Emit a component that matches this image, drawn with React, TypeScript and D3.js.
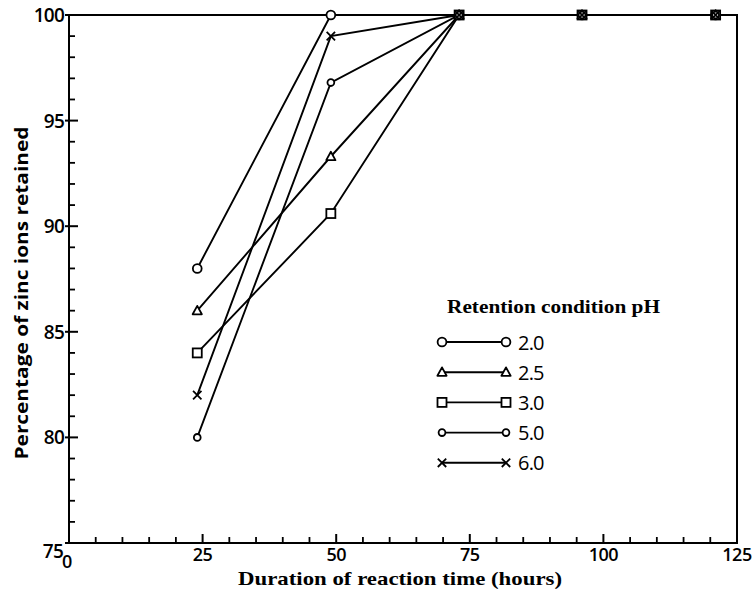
import React from "react";
import * as d3 from "d3";

// Reaction time in hours
const hours = [24, 49, 73, 96, 121];

// Percentage of zinc ions retained at each retention pH
const ph20 = [88, 100, 100, 100, 100];
const ph25 = [86, 93.3, 100, 100, 100];
const ph30 = [84, 90.6, 100, 100, 100];
const ph50 = [80, 96.8, 100, 100, 100];
const ph60 = [82, 99, 100, 100, 100];

const seriesLabels = ["2.0", "2.5", "3.0", "5.0", "6.0"];
const seriesMarkers = ["circle", "triangle", "square", "smallCircle", "cross"];
const seriesValues = [ph20, ph25, ph30, ph50, ph60];

const xMajorTicks = [0, 25, 50, 75, 100, 125];
const yMajorTicks = [75, 80, 85, 90, 95, 100];

const W = 755;
const H = 594;
const SANS = "'Open Sans', 'DejaVu Sans', sans-serif";
const SERIF = "'Liberation Serif', 'DejaVu Serif', serif";

function Marker({ kind, x, y }: { kind: string; x: number; y: number }) {
  const sw = 1.8;
  if (kind === "circle") {
    return <circle cx={x} cy={y} r={4.4} fill="#fff" stroke="#000" strokeWidth={sw} />;
  }
  if (kind === "smallCircle") {
    return <circle cx={x} cy={y} r={3.4} fill="#fff" stroke="#000" strokeWidth={sw} />;
  }
  if (kind === "square") {
    return <rect x={x - 4.5} y={y - 4.5} width={9} height={9} fill="#fff" stroke="#000" strokeWidth={sw} />;
  }
  if (kind === "triangle") {
    const tri = d3.line()([
      [x, y - 4.8],
      [x + 4.6, y + 3.6],
      [x - 4.6, y + 3.6],
    ]) + "Z";
    return <path d={tri} fill="#fff" stroke="#000" strokeWidth={sw} strokeLinejoin="round" />;
  }
  const s = 4.2;
  return (
    <path
      d={`M${x - s},${y - s}L${x + s},${y + s}M${x - s},${y + s}L${x + s},${y - s}`}
      stroke="#000"
      strokeWidth={sw}
      fill="none"
    />
  );
}

export default function App() {
  const x = d3.scaleLinear().domain([0, 125]).range([69, 737]);
  const y = d3.scaleLinear().domain([75, 100]).range([543, 15]);

  const line = d3
    .line<number>()
    .x((_, i) => x(hours[i]))
    .y((v) => y(v));

  const xMinor = d3.range(0, 126, 5).filter((v) => v % 25 !== 0);
  const yMinor = d3.range(75, 101, 1).filter((v) => v % 5 !== 0);

  const legendX0 = 442;
  const legendX1 = 506;
  const legendY0 = 342;
  const legendStep = 30.2;

  return (
    <svg
      width={W}
      height={H}
      style={{ position: "absolute", left: 0, top: 0, background: "#fff" }}
    >
      <rect x={0} y={0} width={W} height={H} fill="#fff" />

      {/* data lines */}
      {seriesValues.map((vals, si) => (
        <path key={"l" + si} d={line(vals) || ""} fill="none" stroke="#000" strokeWidth={1.9} />
      ))}

      {/* plot frame */}
      <rect
        x={x(0)}
        y={y(100)}
        width={x(125) - x(0)}
        height={y(75) - y(100)}
        fill="none"
        stroke="#000"
        strokeWidth={2}
      />

      {/* x ticks */}
      {xMajorTicks.map((v) => (
        <line key={"xM" + v} x1={x(v)} x2={x(v)} y1={y(75) + 1} y2={y(75) - 9} stroke="#000" strokeWidth={2} />
      ))}
      {xMinor.map((v) => (
        <line key={"xm" + v} x1={x(v)} x2={x(v)} y1={y(75)} y2={y(75) - 6} stroke="#000" strokeWidth={1.8} />
      ))}

      {/* y ticks */}
      {yMajorTicks.map((v) => (
        <line key={"yM" + v} x1={x(0) - 4} x2={x(0) + 9} y1={y(v)} y2={y(v)} stroke="#000" strokeWidth={2} />
      ))}
      {yMinor.map((v) => (
        <line key={"ym" + v} x1={x(0)} x2={x(0) + 6} y1={y(v)} y2={y(v)} stroke="#000" strokeWidth={1.8} />
      ))}

      {/* x tick labels */}
      {xMajorTicks.map((v) => (
        <text
          key={"xt" + v}
          x={v === 0 ? x(v) - 2 : x(v)}
          y={v === 0 ? 568 : 561}
          textAnchor="middle"
          fontFamily={SANS}
          fontWeight={600}
          fontSize={18}
          letterSpacing={-0.5}
        >
          {v}
        </text>
      ))}

      {/* y tick labels */}
      {yMajorTicks.map((v) => (
        <text
          key={"yt" + v}
          x={v === 75 ? 63 : 64}
          y={v === 75 ? y(v) + 15 : y(v) + 7}
          textAnchor="end"
          fontFamily={SANS}
          fontWeight={600}
          fontSize={19}
          letterSpacing={-0.8}
        >
          {v}
        </text>
      ))}

      {/* markers */}
      {seriesValues.map((vals, si) =>
        vals.map((v, i) => (
          <Marker key={`m${si}-${i}`} kind={seriesMarkers[si]} x={x(hours[i])} y={y(v)} />
        ))
      )}

      {/* axis titles */}
      <text
        x={400}
        y={585}
        textAnchor="middle"
        fontFamily={SERIF}
        fontWeight="bold"
        fontSize={19}
        textLength={324}
        lengthAdjust="spacingAndGlyphs"
      >
        Duration of reaction time (hours)
      </text>
      <text
        transform="translate(28,293) rotate(-90)"
        textAnchor="middle"
        fontFamily={SANS}
        fontWeight="bold"
        fontSize={17}
        textLength={333}
        lengthAdjust="spacingAndGlyphs"
      >
        Percentage of zinc ions retained
      </text>

      {/* legend */}
      <text
        x={447}
        y={313}
        fontFamily={SERIF}
        fontWeight="bold"
        fontSize={18}
        textLength={213}
        lengthAdjust="spacingAndGlyphs"
      >
        Retention condition pH
      </text>
      {seriesLabels.map((lab, si) => {
        const ly = legendY0 + si * legendStep;
        return (
          <g key={"lg" + si}>
            <line x1={legendX0} x2={legendX1} y1={ly} y2={ly} stroke="#000" strokeWidth={1.9} />
            <Marker kind={seriesMarkers[si]} x={legendX0} y={ly} />
            <Marker kind={seriesMarkers[si]} x={legendX1} y={ly} />
            <text x={518} y={ly + 7.5} fontFamily={SANS} fontWeight={500} fontSize={20} letterSpacing={-0.8}>
              {lab}
            </text>
          </g>
        );
      })}
    </svg>
  );
}
